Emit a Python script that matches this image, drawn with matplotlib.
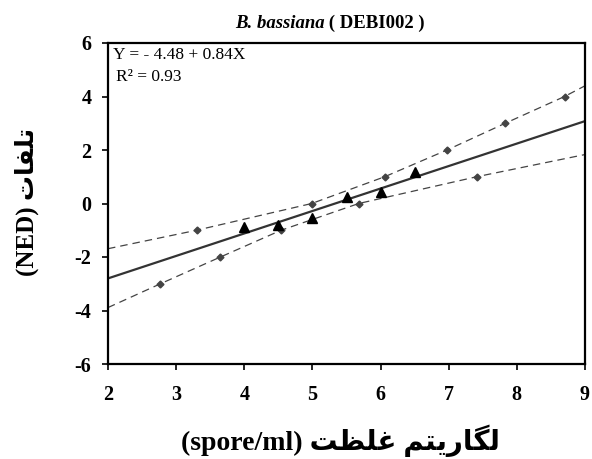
import matplotlib
matplotlib.use("Agg")
import matplotlib.pyplot as plt

plt.rcParams["axes.unicode_minus"] = False

# observed points (log dose vs probit-like mortality)
obs_x = [4.0, 4.5, 5.0, 5.5, 6.0, 6.5]
obs_y = [-0.87, -0.80, -0.53, 0.24, 0.44, 1.18]

# fitted line Y = -4.48 + 0.84X, read at the axis ends
fit_x = [2.0, 9.0]
fit_y = [-2.80, 3.08]

# confidence band curves (dashed), marked where they cross whole numbers
upper_x = [2.0, 3.30, 4.99, 6.06, 6.975, 7.83, 8.70, 9.0]
upper_y = [-1.69, -1.0, 0.0, 1.0, 2.0, 3.0, 4.0, 4.4]
lower_x = [2.0, 2.77, 3.65, 4.54, 5.68, 7.41, 9.0]
lower_y = [-3.89, -3.0, -2.0, -1.0, 0.0, 1.0, 1.83]

x_ticks = [2, 3, 4, 5, 6, 7, 8, 9]
y_ticks = [-6, -4, -2, 0, 2, 4, 6]

title_italic = "B. bassiana"
title_rest = " ( DEBI002 )"
eq_text = "Y = - 4.48 + 0.84X"
r2_text = "R\u00b2 = 0.93"

# Persian labels written in visual order with presentation forms
talafat = "\uFE95\uFE8E\uFED4\uFEE0\uFE97"
ghelzat = "\uFE96\uFEC8\uFEE0\uFECF"
logarithm = "\uFEE2\uFE98\uFBFE\uFEAD\uFE8E\uFB95\uFEDF"
y_label = "(NED) " + talafat
x_label = "(spore/ml) " + ghelzat + " " + logarithm

serif = ["Liberation Serif", "DejaVu Sans"]
W, H = 592, 459

fig = plt.figure(figsize=(W / 100, H / 100), dpi=100)
ax = fig.add_axes([108 / W, 1 - 364 / H, 477 / W, 321 / H])

for bx, by in ((upper_x, upper_y), (lower_x, lower_y)):
    ax.plot(bx, by, ls=(0, (6, 4)), color="#444444", lw=0.9,
            marker="D", ms=3.5, markevery=list(range(1, len(bx) - 1)),
            mfc="#444444", mec="#444444")
ax.plot(fit_x, fit_y, color="#333333", lw=1.6)
ax.plot(obs_x, obs_y, ls="none", marker="^", ms=6.5, color="black")

ax.set_xlim(2, 9)
ax.set_ylim(-6, 6)
ax.set_xticks(x_ticks)
ax.set_yticks(y_ticks)
ax.tick_params(direction="out", length=4, width=1.2)
ax.tick_params(axis="x", pad=11)
ax.tick_params(axis="y", pad=8)
for lab in ax.get_xticklabels() + ax.get_yticklabels():
    lab.set_family(serif)
    lab.set_fontweight("bold")
    lab.set_fontsize(14.5)
for sp in ax.spines.values():
    sp.set_linewidth(1.6)

fig.text(113 / W, 1 - 55 / H, eq_text, family=serif, fontsize=12.5,
         va="center", ha="left")
fig.text(116 / W, 1 - 77 / H, r2_text, family=serif, fontsize=12.5,
         va="center", ha="left")

# title: italic species name then bold strain code, centred as one line
ty = 1 - 23 / H
t1 = fig.text(0, ty, title_italic, family=serif, fontsize=13.5,
              fontweight="bold", style="italic", ha="right", va="center")
t2 = fig.text(0, ty, title_rest, family=serif, fontsize=13.5,
              fontweight="bold", ha="left", va="center")
fig.canvas.draw()
w1 = t1.get_window_extent().width
w2 = t2.get_window_extent().width
split = 330 - (w1 + w2) / 2 + w1
t1.set_position((split / W, ty))
t2.set_position((split / W, ty))

fig.text(27 / W, 1 - 202 / H, y_label, family=serif, fontsize=18,
         fontweight="bold", rotation=90, ha="center", va="center")
fig.text(340 / W, 1 - 441 / H, x_label, family=serif, fontsize=20,
         fontweight="bold", ha="center", va="center")

fig.savefig("out.png", dpi=100)
